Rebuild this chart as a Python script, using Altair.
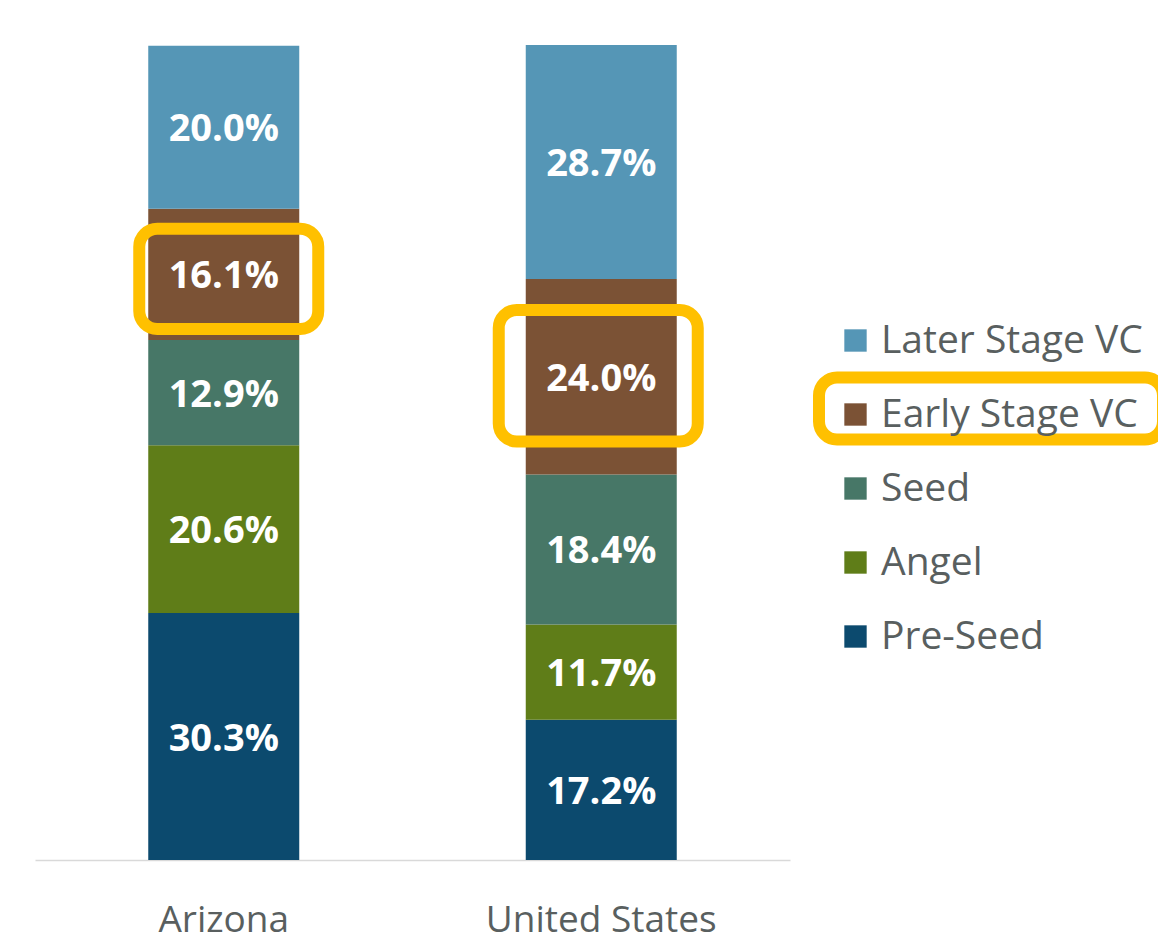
import altair as alt
import pandas as pd

# ---- data ----
regions = ["Arizona", "United States"]
stages_bottom_to_top = ["Pre-Seed", "Angel", "Seed", "Early Stage VC", "Later Stage VC"]
arizona_values = [30.3, 20.6, 12.9, 16.1, 20.0]
us_values = [17.2, 11.7, 18.4, 24.0, 28.7]
legend_order = ["Later Stage VC", "Early Stage VC", "Seed", "Angel", "Pre-Seed"]
legend_colors = ["#5596B6", "#7B5235", "#477767", "#5F7D18", "#0C4A6E"]
highlight_stage = "Early Stage VC"

rows = []
for region, vals in zip(regions, [arizona_values, us_values]):
    for i, (stage, v) in enumerate(zip(stages_bottom_to_top, vals)):
        rows.append({"region": region, "stage": stage, "value": v, "order": i})
df = pd.DataFrame(rows)

FONT = "Open Sans"
TEXT_GREY = "#595f5f"
HL = "#FFC000"

base = (
    alt.Chart(df)
    .transform_window(
        end="sum(value)",
        groupby=["region"],
        sort=[alt.SortField("order")],
        frame=[None, 0],
    )
    .transform_calculate(
        start="datum.end - datum.value",
        mid="datum.end - datum.value / 2",
        label="format(datum.value, '.1f') + '%'",
    )
)

x_enc = alt.X(
    "region:N",
    scale=alt.Scale(domain=regions, paddingInner=0, paddingOuter=0),
    axis=alt.Axis(
        title=None,
        labelAngle=0,
        ticks=False,
        tickSize=0,
        labelPadding=42,
        labelFontSize=37,
        labelFont=FONT,
        labelColor=TEXT_GREY,
        labelLimit=0,
        domainColor="#d9d9d9",
        domainWidth=1.5,
        grid=False,
    ),
)
y_scale = alt.Scale(domain=[0, 100], nice=False, zero=True)

bars = base.mark_bar(width=151).encode(
    x=x_enc,
    y=alt.Y("start:Q", scale=y_scale, axis=None),
    y2="end:Q",
    color=alt.Color(
        "stage:N",
        scale=alt.Scale(domain=legend_order, range=legend_colors),
        legend=alt.Legend(
            title=None,
            orient="none",
            legendX=801,
            legendY=276,
            direction="vertical",
            symbolType="square",
            symbolSize=500,
            symbolStrokeWidth=0,
            labelFont=FONT,
            labelFontSize=39,
            labelColor=TEXT_GREY,
            labelLimit=0,
            labelOffset=6,
            rowPadding=34,
            padding=0,
        ),
    ),
)

labels = base.mark_text(
    font=FONT, fontWeight="bold", fontSize=38, color="white", baseline="middle", dy=3
).encode(
    x=alt.X("region:N"),
    y=alt.Y("mid:Q"),
    text="label:N",
)

box_style = dict(
    cornerRadius=18, fillOpacity=0, stroke=HL, strokeWidth=12
)

box_az = base.transform_filter(
    (alt.datum.stage == highlight_stage) & (alt.datum.region == regions[0])
).mark_bar(width=179, xOffset=5, yOffset=-11, y2Offset=20, **box_style).encode(
    x=alt.X("region:N"), y=alt.Y("start:Q"), y2="end:Q"
)

box_us = base.transform_filter(
    (alt.datum.stage == highlight_stage) & (alt.datum.region == regions[1])
).mark_bar(width=199, xOffset=-3, yOffset=-33, y2Offset=31, **box_style).encode(
    x=alt.X("region:N"), y=alt.Y("start:Q"), y2="end:Q"
)

legend_box = alt.Chart(pd.DataFrame({"stage": [highlight_stage]})).mark_rect(
    **box_style
).encode(
    x=alt.value(784), x2=alt.value(1128), y=alt.value(332.5), y2=alt.value(394.5)
)

chart = (
    alt.layer(bars, labels, box_az, box_us, legend_box)
    .properties(
        width=755,
        height=815,
        padding={"left": 27, "top": 37, "right": 368, "bottom": 82},
        autosize=alt.AutoSizeParams(type="none"),
        background="white",
    )
    .configure_view(stroke=None)
)

chart.save("out.html", embed_options={"renderer": "svg", "actions": False})
